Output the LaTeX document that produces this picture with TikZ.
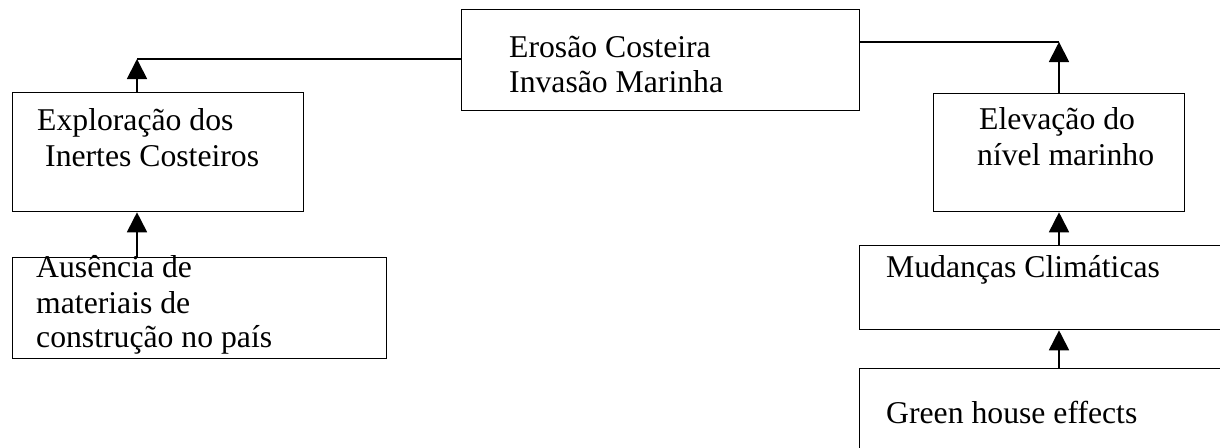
\documentclass[tikz,border=0pt]{standalone}
\usepackage{fontspec}
\setmainfont{Liberation Serif}
\usetikzlibrary{arrows.meta}
\begin{document}
\begin{tikzpicture}[x=1pt,y=-1pt,
 box/.style={draw,line width=1.3pt,rectangle,inner sep=0pt,anchor=north west},
 lbl/.style={anchor=base west,inner sep=0pt,font=\fontsize{31.7}{35}\selectfont},
 arr/.style={line width=1.8pt,-{Triangle[width=20pt,length=20pt]}},
 ln/.style={line width=1.5pt}]
\useasboundingbox (0,0) rectangle (1220,447);
\clip (0,0) rectangle (1220,447);
% boxes
\node[box,minimum width=398pt,minimum height=101pt] (top) at (461,9) {};
\node[box,minimum width=291pt,minimum height=119pt] (expl) at (12,92) {};
\node[box,minimum width=374pt,minimum height=101pt] (aus) at (12,257) {};
\node[box,minimum width=251pt,minimum height=118pt] (elev) at (933,93) {};
\node[box,minimum width=420pt,minimum height=84pt] (mud) at (859,245) {};
\node[box,minimum width=420pt,minimum height=120pt] (green) at (859,368) {};
% texts
\node[lbl] (t1) at (509,57) {Erosão Costeira};
\node[lbl] (t2) at (509,92) {Invasão Marinha};
\node[lbl] (t3) at (37,130) {Exploração dos};
\node[lbl] (t4) at (45,166) {Inertes Costeiros};
\node[lbl] (t5) at (36,277) {Ausência de};
\node[lbl] (t6) at (36,313) {materiais de};
\node[lbl] (t7) at (36,347) {construção no país};
\node[lbl] (t8) at (979,129) {Elevação do};
\node[lbl] (t9) at (977,165) {nível marinho};
\node[lbl] (t10) at (886,277) {Mudanças Climáticas};
\node[lbl] (t11) at (886,423) {Green house effects};
% connectors
\coordinate (j1) at (137,59);
\coordinate (j2) at (1059,42);
\draw[ln] (top.west |- j1) -- (j1);
\draw[arr] (j1 |- expl.north) -- (j1);
\draw[ln] (top.east |- j2) -- (j2);
\draw[arr] (j2 |- elev.north) -- (j2);
\draw[arr] (j1 |- aus.north) -- (j1 |- expl.south);
\draw[arr] (j2 |- mud.north) -- (j2 |- elev.south);
\draw[arr] (j2 |- green.north) -- (j2 |- mud.south);
\end{tikzpicture}
\end{document}
